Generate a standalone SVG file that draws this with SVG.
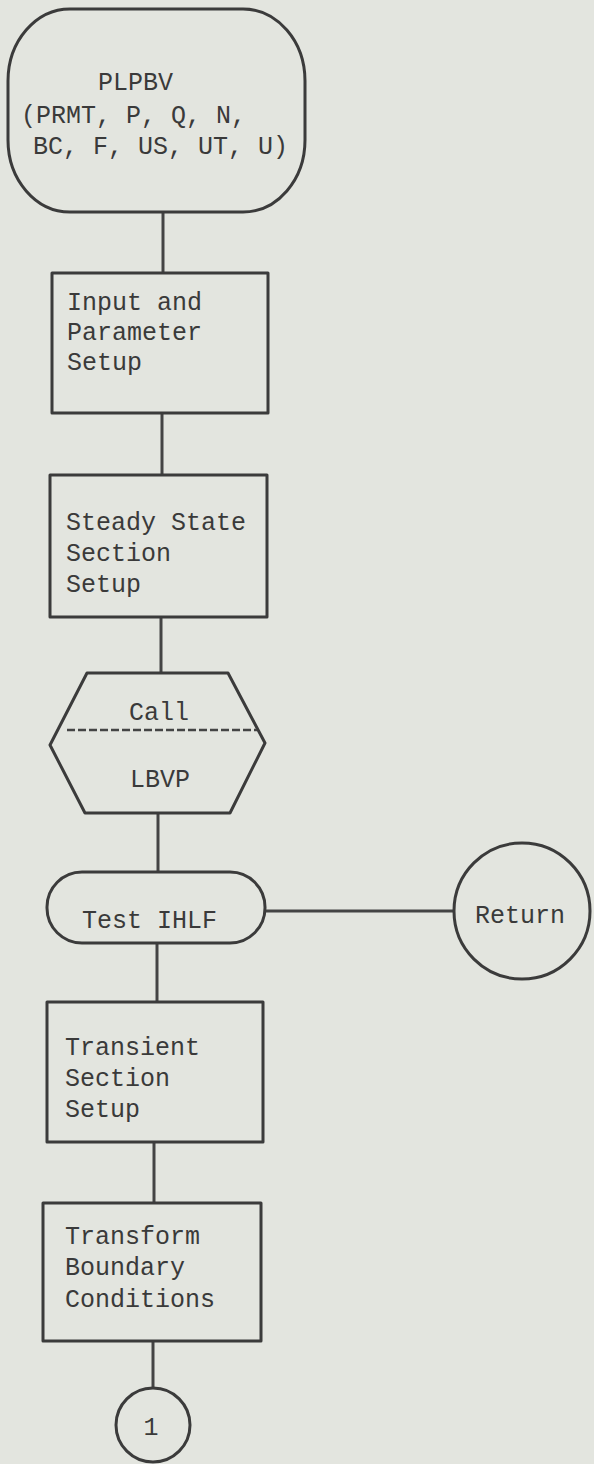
<svg xmlns="http://www.w3.org/2000/svg" width="594" height="1464" viewBox="0 0 594 1464">
  <style>
    .shape { fill: none; stroke: #3b3b3b; stroke-width: 3; stroke-linejoin: round; }
    .link { fill: none; stroke: #444; stroke-width: 3; }
    .dash { fill: none; stroke: #444; stroke-width: 2.5; stroke-dasharray: 8 3; }
    text { font-family: "Liberation Mono", "DejaVu Sans Mono", monospace; font-size: 25px; fill: #3a3a3a; }
    .mid { text-anchor: middle; }
  </style>
  <rect width="594" height="1464" fill="#e3e5df"/>

  <!-- connectors -->
  <g id="connectors">
    <line class="link" x1="163" y1="212" x2="163" y2="273"/>
    <line class="link" x1="162" y1="413" x2="162" y2="475"/>
    <line class="link" x1="161" y1="617" x2="161" y2="673"/>
    <line class="link" x1="158" y1="813" x2="158" y2="872"/>
    <line class="link" x1="157" y1="943" x2="157" y2="1002"/>
    <line class="link" x1="154" y1="1142" x2="154" y2="1203"/>
    <line class="link" x1="153" y1="1341" x2="153" y2="1387"/>
    <line class="link" x1="265" y1="911" x2="454" y2="911"/>
  </g>

  <!-- entry terminal -->
  <g id="entry">
    <rect class="shape" x="8" y="9" width="297" height="203" rx="62" ry="72"/>
    <text x="98" y="90">PLPBV</text>
    <text x="21" y="123">(PRMT, P, Q, N,</text>
    <text x="33" y="154">BC, F, US, UT, U)</text>
  </g>

  <!-- input and parameter setup -->
  <g id="input-setup">
    <rect class="shape" x="52" y="273" width="216" height="140"/>
    <text x="67" y="310">Input and</text>
    <text x="67" y="340">Parameter</text>
    <text x="67" y="370">Setup</text>
  </g>

  <!-- steady state setup -->
  <g id="steady-setup">
    <rect class="shape" x="50" y="475" width="217" height="142"/>
    <text x="66" y="530">Steady State</text>
    <text x="66" y="561">Section</text>
    <text x="66" y="592">Setup</text>
  </g>

  <!-- subroutine call -->
  <g id="call-lbvp">
    <polygon class="shape" points="87,673 228,673 265,743 230,813 85,813 50,745"/>
    <line class="dash" x1="67" y1="730" x2="257" y2="730"/>
    <text class="mid" x="159" y="720">Call</text>
    <text class="mid" x="160" y="787">LBVP</text>
  </g>

  <!-- test flag -->
  <g id="test-ihlf">
    <rect class="shape" x="47" y="872" width="218" height="71" rx="35" ry="35"/>
    <text x="82" y="928">Test IHLF</text>
  </g>

  <!-- return -->
  <g id="return">
    <circle class="shape" cx="522" cy="911" r="68"/>
    <text x="475" y="923">Return</text>
  </g>

  <!-- transient setup -->
  <g id="transient-setup">
    <rect class="shape" x="47" y="1002" width="216" height="140"/>
    <text x="65" y="1055">Transient</text>
    <text x="65" y="1086">Section</text>
    <text x="65" y="1117">Setup</text>
  </g>

  <!-- boundary transform -->
  <g id="transform-bc">
    <rect class="shape" x="43" y="1203" width="218" height="138"/>
    <text x="65" y="1244">Transform</text>
    <text x="65" y="1275">Boundary</text>
    <text x="65" y="1307">Conditions</text>
  </g>

  <!-- off-page connector -->
  <g id="connector-1">
    <circle class="shape" cx="153" cy="1425" r="37"/>
    <text class="mid" x="151" y="1435">1</text>
  </g>
</svg>
